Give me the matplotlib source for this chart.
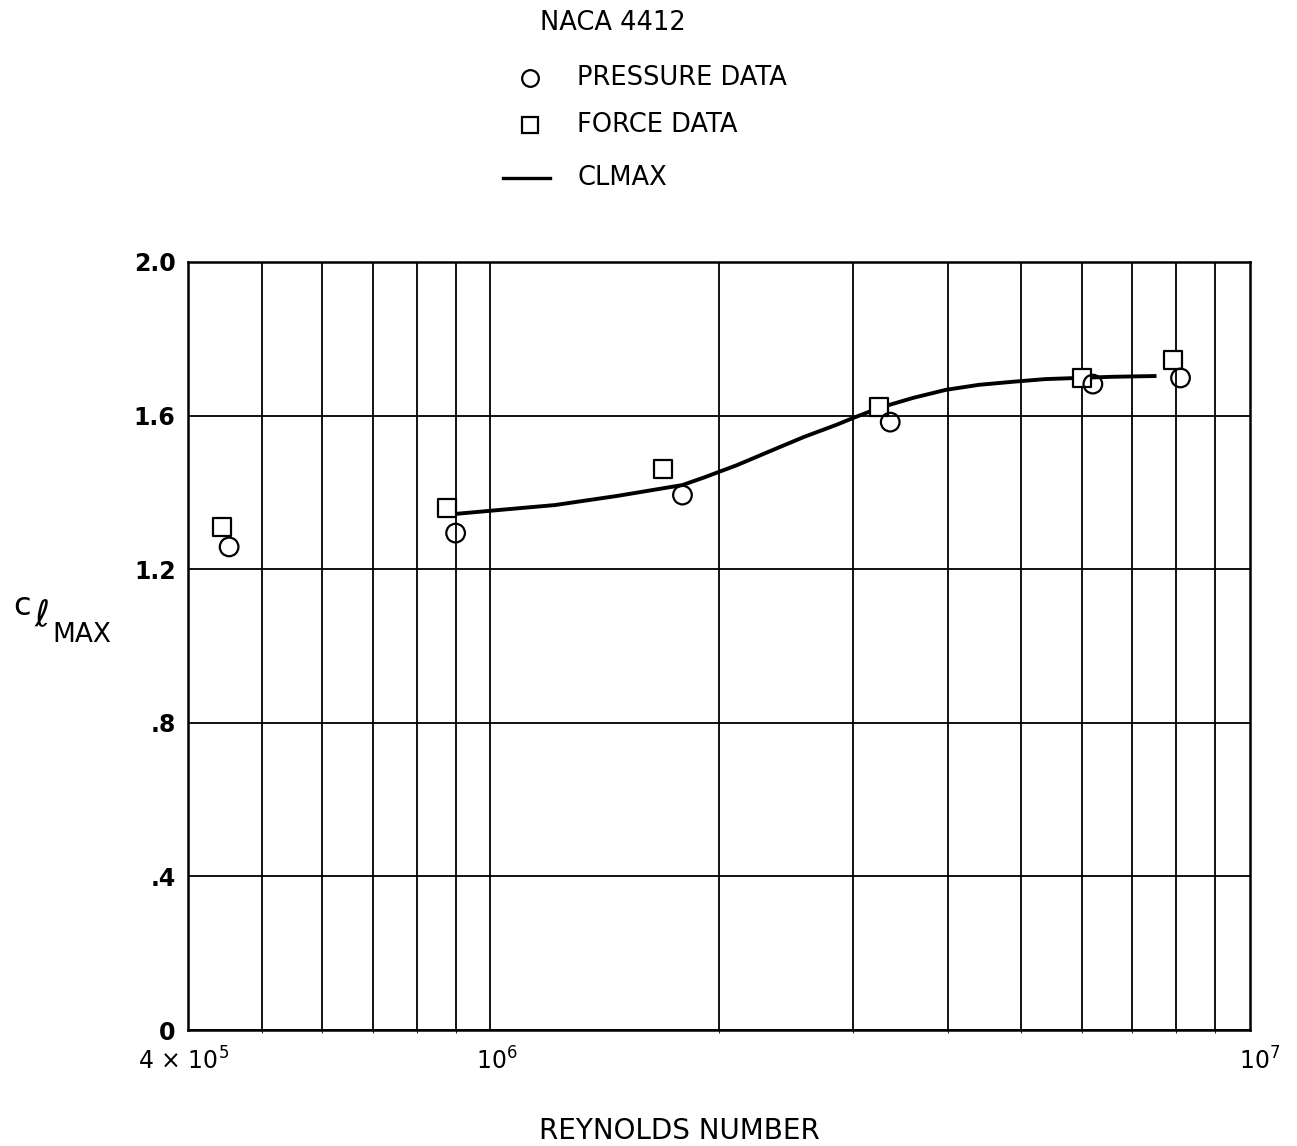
import numpy as np
import matplotlib.pyplot as plt
from matplotlib.ticker import FixedLocator, NullFormatter
from matplotlib.lines import Line2D

# NACA 4412 maximum lift coefficient vs Reynolds number
re_pressure = [4.53e5, 9.0e5, 1.79e6, 3.36e6, 6.21e6, 8.10e6]
cl_pressure = [1.258, 1.294, 1.393, 1.583, 1.682, 1.698]

re_force = [4.44e5, 8.78e5, 1.69e6, 3.25e6, 6.01e6, 7.91e6]
cl_force = [1.310, 1.359, 1.461, 1.622, 1.698, 1.745]

re_curve = [9.0e5, 1.024e6, 1.216e6, 1.471e6, 1.789e6, 1.912e6, 2.112e6,
            2.332e6, 2.584e6, 2.855e6, 3.005e6, 3.249e6, 3.6e6, 3.977e6,
            4.393e6, 4.867e6, 5.375e6, 5.936e6, 6.578e6, 7.487e6]
cl_curve = [1.344, 1.354, 1.367, 1.391, 1.419, 1.439, 1.471,
            1.507, 1.544, 1.576, 1.594, 1.620, 1.646, 1.667,
            1.680, 1.688, 1.695, 1.698, 1.701, 1.703]

y_ticks = [0, 0.4, 0.8, 1.2, 1.6, 2.0]
y_labels = ["0", ".4", ".8", "1.2", "1.6", "2.0"]

plt.rcParams["font.family"] = ["DejaVu Sans"]

fig = plt.figure(figsize=(12.97, 11.46), dpi=100)
ax = fig.add_axes([0.145, 0.1012, 0.8188, 0.6702])

ax.set_xscale("log")
ax.set_xlim(4e5, 1e7)
ax.set_ylim(0, 2.0)

minor_x = [k * 10**e for e in (5, 6) for k in range(1, 10)]
ax.xaxis.set_major_locator(FixedLocator([1e6]))
ax.xaxis.set_minor_locator(FixedLocator([v for v in minor_x if 4e5 < v < 1e7]))
ax.xaxis.set_major_formatter(NullFormatter())
ax.xaxis.set_minor_formatter(NullFormatter())
ax.set_yticks(y_ticks)
ax.set_yticklabels(y_labels, fontsize=17, fontweight="bold")
ax.tick_params(length=0, pad=9)
ax.grid(True, which="both", axis="x", color="black", lw=1.3)
ax.grid(True, axis="y", color="black", lw=1.3)
for s in ax.spines.values():
    s.set_linewidth(1.8)

ax.plot(re_curve, cl_curve, color="black", lw=2.8, zorder=3)
ax.scatter(re_force, cl_force, marker="s", s=160, facecolors="white",
           edgecolors="black", linewidths=1.6, zorder=4)
ax.scatter(re_pressure, cl_pressure, marker="o", s=180, facecolors="none",
           edgecolors="black", linewidths=1.6, zorder=5)

# x tick labels written out in the old style
lbl = dict(transform=ax.get_xaxis_transform(), fontsize=17, va="top")
ax.text(3.95e5, -0.022, r"4 $\times$ 10$^{5}$", ha="center", **lbl)
ax.text(1.02e6, -0.022, r"10$^{6}$", ha="center", **lbl)
ax.text(1.03e7, -0.022, r"10$^{7}$", ha="center", **lbl)

fig.text(0.524, 0.013, "REYNOLDS NUMBER", fontsize=20, ha="center", va="center")
fig.text(0.010, 0.471, "c", fontsize=23, ha="left", va="center")
fig.text(0.026, 0.462, r"$\ell$", fontsize=26, ha="left", va="center")
fig.text(0.040, 0.446, "MAX", fontsize=19, ha="left", va="center")

# key block above the plot
fig.text(0.416, 0.980, "NACA 4412", fontsize=18.5, ha="left", va="center")
key_y = [0.932, 0.891, 0.845]
key_text = ["PRESSURE DATA", "FORCE DATA", "CLMAX"]
fig.add_artist(Line2D([0.409], [key_y[0]], marker="o", ls="none", ms=12, mfc="none",
                      mec="black", mew=1.6, transform=fig.transFigure))
fig.add_artist(Line2D([0.409], [key_y[1]], marker="s", ls="none", ms=11, mfc="none",
                      mec="black", mew=1.6, transform=fig.transFigure))
fig.add_artist(Line2D([0.388, 0.424], [key_y[2], key_y[2]], color="black", lw=2.4,
                      transform=fig.transFigure))
for yy, text in zip(key_y, key_text):
    fig.text(0.445, yy, text, fontsize=18.5, ha="left", va="center")

fig.savefig("out.png", dpi=100)
